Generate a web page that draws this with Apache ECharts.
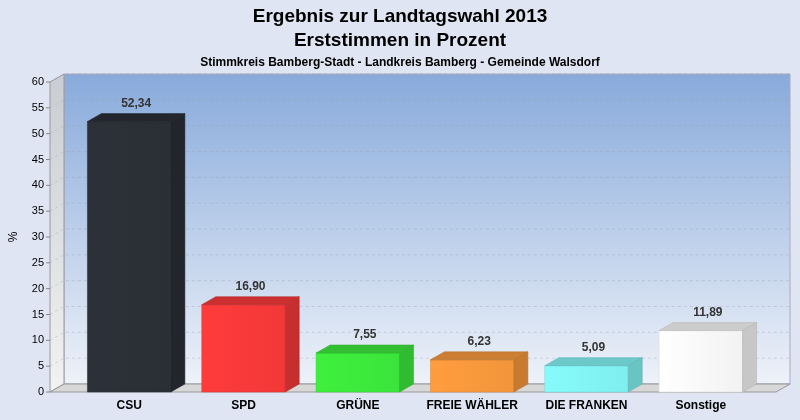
<!DOCTYPE html>
<html><head><meta charset="utf-8">
<script src="https://cdn.jsdelivr.net/npm/echarts@6/dist/echarts.min.js"></script>
<style>html,body{margin:0;padding:0;background:#dfe5f3}#c{width:800px;height:420px}</style>
</head><body><div id="c"></div>
<script>
var categories = ['CSU', 'SPD', 'GRÜNE', 'FREIE WÄHLER', 'DIE FRANKEN', 'Sonstige'];
var values = [52.34, 16.90, 7.55, 6.23, 5.09, 11.89];
var labels = ['52,34', '16,90', '7,55', '6,23', '5,09', '11,89'];
var colors = ['#2c3038', '#ff3b3b', '#3ef03e', '#ff9d3e', '#86fbfb', '#ffffff'];
var ticks = [0, 5, 10, 15, 20, 25, 30, 35, 40, 45, 50, 55, 60];

var DX = 14, DY = -8;
var chart = echarts.init(document.getElementById('c'));

// darken a #rrggbb colour by factor f (0..1)
function shade(c, f) {
    var n = parseInt(c.slice(1), 16);
    var r = Math.round(((n >> 16) & 255) * (1 - f));
    var g = Math.round(((n >> 8) & 255) * (1 - f));
    var b = Math.round((n & 255) * (1 - f));
    return 'rgb(' + r + ',' + g + ',' + b + ')';
}

chart.setOption({
    backgroundColor: '#dfe5f3',
    title: [
        {text: 'Ergebnis zur Landtagswahl 2013\nErststimmen in Prozent', left: 'center', top: 0,
         textStyle: {fontFamily: 'Liberation Sans', fontSize: 19, fontWeight: 'bold', color: '#000', lineHeight: 24}},
        {text: 'Stimmkreis Bamberg-Stadt - Landkreis Bamberg - Gemeinde Walsdorf', left: 'center', top: 52,
         textStyle: {fontFamily: 'Liberation Sans', fontSize: 12, fontWeight: 'bold', color: '#000'}}
    ],
    grid: {left: 70, right: 42, top: 82, bottom: 28},
    xAxis: {type: 'category', data: categories,
        axisLine: {show: false}, axisTick: {show: false},
        axisLabel: {interval: 0, color: '#000', fontWeight: 'bold', fontSize: 12, fontFamily: 'Liberation Sans', margin: 8}},
    yAxis: {type: 'value', min: 0, max: 60, interval: 5, name: '%', nameLocation: 'middle', nameGap: 52,
        nameTextStyle: {color: '#000', fontSize: 12},
        axisLine: {show: false}, axisTick: {show: false},
        splitLine: {show: false},
        axisLabel: {color: '#000', fontSize: 11, fontFamily: 'Liberation Sans', margin: 28}},
    series: [
        {
            type: 'custom', silent: true, z: 1, data: [[0]],
            renderItem: function (params, api) {
                var cs = params.coordSys;
                var x = cs.x - 22, y = cs.y, w = cs.width + 40, h = cs.height;
                var kids = [
                    {type: 'rect', shape: {x: x + DX, y: y + DY, width: w, height: h},
                     style: {fill: new echarts.graphic.LinearGradient(0, 0, 0, 1, [
                         {offset: 0, color: '#88aadb'}, {offset: 1, color: '#eef2f9'}]), stroke: '#aab'}},
                    {type: 'polygon', shape: {points: [[x, y], [x + DX, y + DY], [x + DX, y + h + DY], [x, y + h]]},
                     style: {fill: new echarts.graphic.LinearGradient(0, 0, 0, 1, [
                         {offset: 0, color: '#c9ccd2'}, {offset: 1, color: '#f2f2f2'}]), stroke: '#999'}},
                    {type: 'polygon', shape: {points: [[x, y + h], [x + DX, y + h + DY], [x + w + DX, y + h + DY], [x + w, y + h]]},
                     style: {fill: '#d8d8d8', stroke: '#999'}}
                ];
                ticks.forEach(function (t) {
                    var py = api.coord([0, t])[1];
                    kids.push({type: 'polyline', shape: {points: [[x, py], [x + DX, py + DY], [x + w + DX, py + DY]]},
                        style: {stroke: 'rgba(150,160,175,0.35)', lineDash: [3, 3], fill: null}});
                    kids.push({type: 'line', shape: {x1: x - 4, y1: py, x2: x, y2: py}, style: {stroke: '#888'}});
                });
                return {type: 'group', children: kids};
            }
        },
        {
            type: 'custom', z: 2,
            data: values.map(function (v, i) { return [i, v]; }),
            renderItem: function (params, api) {
                var i = api.value(0), v = api.value(1);
                var bw = api.size([1, 0])[0] * 0.73;
                var p0 = api.coord([i, 0]), p1 = api.coord([i, v]);
                var l = p0[0] - bw / 2, r = p0[0] + bw / 2, b = p0[1], t = p1[1];
                var c = colors[i];
                return {type: 'group', children: [
                    {type: 'rect', shape: {x: l, y: t, width: bw, height: b - t},
                     style: {fill: new echarts.graphic.LinearGradient(0, 0, 1, 0, [
                         {offset: 0, color: c}, {offset: 1, color: shade(c, 0.05)}]), stroke: shade(c, 0.15), lineWidth: 0.5}},
                    {type: 'polygon', shape: {points: [[l, t], [l + DX, t + DY], [r + DX, t + DY], [r, t]]},
                     style: {fill: shade(c, 0.2), stroke: shade(c, 0.3), lineWidth: 0.5}},
                    {type: 'polygon', shape: {points: [[r, t], [r + DX, t + DY], [r + DX, b + DY], [r, b]]},
                     style: {fill: shade(c, 0.22), stroke: shade(c, 0.3), lineWidth: 0.5}},
                    {type: 'text', style: {text: labels[i], x: p0[0] + DX / 2, y: t + DY - 4,
                        align: 'center', verticalAlign: 'bottom', fill: '#333',
                        font: 'bold 12px Liberation Sans'}}
                ]};
            }
        }
    ]
});
</script></body></html>
